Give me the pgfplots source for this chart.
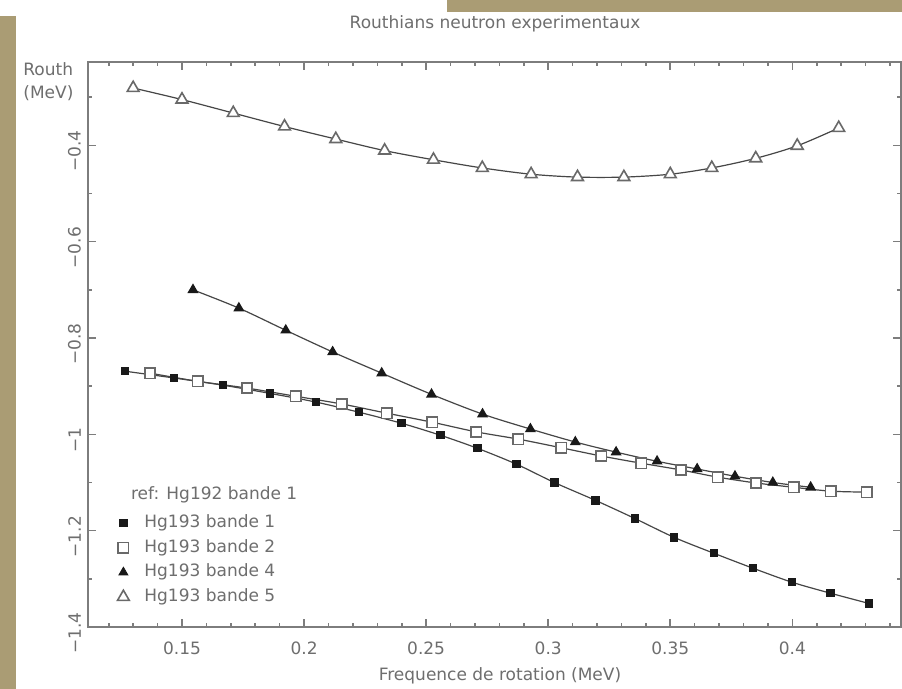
\documentclass[border=0pt]{standalone}
\usepackage{fontspec}
\setmainfont{DejaVu Sans}
\usepackage{pgfplots}
\pgfplotsset{compat=1.18}
\definecolor{tanbg}{RGB}{170,156,116}
\definecolor{txt}{RGB}{110,110,110}
\definecolor{axc}{RGB}{125,125,125}
\definecolor{dline}{RGB}{70,70,70}
\definecolor{mk}{RGB}{25,25,25}
\definecolor{omk}{RGB}{105,105,105}
\newcommand{\lf}{\fontsize{8.5}{10}\selectfont}
\begin{document}
\begin{tikzpicture}
\path[use as bounding box, fill=white] (0pt,0pt) rectangle (451pt,344.5pt);
\fill[tanbg] (0pt,0pt) rectangle (8pt,336.5pt);
\fill[tanbg] (223.5pt,338.5pt) rectangle (451pt,344.5pt);
\begin{axis}[
  at={(44pt,31pt)}, anchor=south west,
  width=406.5pt, height=282.5pt, scale only axis,
  xmin=0.1115, xmax=0.4445, ymin=-1.4, ymax=-0.227,
  xtick={0.15,0.2,0.25,0.3,0.35,0.4},
  xticklabels={0.15,0.2,0.25,0.3,0.35,0.4},
  minor xtick={0.12,0.13,0.14,0.16,0.17,0.18,0.19,0.21,0.22,0.23,0.24,0.26,0.27,0.28,0.29,0.31,0.32,0.33,0.34,0.36,0.37,0.38,0.39,0.41,0.42,0.43,0.44},
  ytick={-1.4,-1.2,-1,-0.8,-0.6,-0.4},
  yticklabels={−1.4,−1.2,−1,−0.8,−0.6,−0.4},
  minor ytick={-1.3,-1.1,-0.9,-0.7,-0.5,-0.3},
  axis line style={axc, line width=1pt},
  every tick/.style={axc, line width=0.8pt},
  major tick length=4pt, minor tick length=2pt,
  tick pos=both,
  /pgf/number format/assume math mode=true,
  ticklabel style={font=\lf, text=txt},
  xticklabel style={yshift=-4pt},
  yticklabel style={rotate=90, anchor=south, xshift=-3pt},
  legend style={at={(rel axis cs:0.0332,0.203)}, anchor=north west, draw=none, fill=none,
    font=\lf, text=txt, inner sep=0pt, row sep=1.8pt, column sep=5.5pt,
    nodes={inner sep=1pt, text height=6.5pt, text depth=2pt}},
  legend cell align=left,
  mleg/.style={only marks, legend image code/.code={\path[draw=none, fill=none] (-4pt,-3pt) rectangle (4pt,3pt); \draw[##1] plot coordinates {(0pt,0pt)};}},
]
% bande 1
\addplot[dline, line width=0.6pt, smooth, mark=square*, mark size=1.8pt,
  mark options={mk, fill=mk, solid}, forget plot] coordinates {
(0.1267,-0.869)(0.1467,-0.883)(0.1668,-0.898)(0.1860,-0.915)(0.2048,-0.933)
(0.2224,-0.954)(0.2399,-0.977)(0.2559,-1.002)(0.2710,-1.029)(0.2870,-1.062)
(0.3025,-1.100)(0.3193,-1.137)(0.3356,-1.175)(0.3516,-1.214)(0.3679,-1.247)
(0.3839,-1.278)(0.3998,-1.307)(0.4157,-1.330)(0.4313,-1.351)};
% bande 2
\addplot[dline, line width=0.6pt, smooth, mark=square*, mark size=2.6pt,
  mark options={omk, fill=white, line width=0.8pt, solid}, forget plot] coordinates {
(0.1369,-0.873)(0.1565,-0.890)(0.1766,-0.904)(0.1966,-0.921)(0.2154,-0.937)
(0.2338,-0.956)(0.2526,-0.975)(0.2706,-0.995)(0.2878,-1.010)(0.3054,-1.028)
(0.3217,-1.045)(0.3381,-1.060)(0.3544,-1.074)(0.3695,-1.089)(0.3851,-1.101)
(0.4006,-1.110)(0.4157,-1.118)(0.4305,-1.120)};
% bande 4
\addplot[dline, line width=0.6pt, smooth, mark=triangle*, mark size=2.6pt,
  mark options={mk, fill=mk, solid}, forget plot] coordinates {
(0.1545,-0.700)(0.1733,-0.738)(0.1925,-0.784)(0.2117,-0.829)(0.2318,-0.873)
(0.2522,-0.917)(0.2731,-0.958)(0.2927,-0.989)(0.3111,-1.016)(0.3278,-1.037)
(0.3446,-1.056)(0.3610,-1.072)(0.3765,-1.087)(0.3920,-1.100)(0.4075,-1.110)};
% bande 5
\addplot[dline, line width=0.6pt, smooth, mark=triangle*, mark size=3.4pt,
  mark options={omk, fill=white, line width=0.8pt, solid}, forget plot] coordinates {
(0.130,-0.281)(0.150,-0.305)(0.171,-0.333)(0.192,-0.361)(0.213,-0.387)
(0.233,-0.411)(0.253,-0.430)(0.273,-0.447)(0.293,-0.460)(0.312,-0.466)
(0.331,-0.466)(0.350,-0.460)(0.367,-0.447)(0.385,-0.427)(0.402,-0.401)
(0.419,-0.364)};
\addlegendimage{mleg, mark=square*, mark size=1.8pt, mark options={mk, fill=mk}}
\addlegendentry{Hg193 bande 1}
\addlegendimage{mleg, mark=square*, mark size=2.6pt, mark options={omk, fill=white, line width=0.8pt}}
\addlegendentry{Hg193 bande 2}
\addlegendimage{mleg, mark=triangle*, mark size=2.6pt, mark options={mk, fill=mk}}
\addlegendentry{Hg193 bande 4}
\addlegendimage{mleg, mark=triangle*, mark size=3.4pt, mark options={omk, fill=white, line width=0.8pt}}
\addlegendentry{Hg193 bande 5}
\end{axis}
\node[font=\lf, text=txt, anchor=west] at (62pt,97pt) {ref: Hg192 bande 1};
\node[font=\lf, text=txt] at (247.5pt,332.5pt) {Routhians neutron experimentaux};
\node[font=\lf, text=txt] at (250pt,6.5pt) {Frequence de rotation (MeV)};
\node[font=\lf, text=txt, anchor=west, inner sep=0pt] at (11.5pt,310pt) {Routh};
\node[font=\lf, text=txt, anchor=west, inner sep=0pt] at (11.5pt,298pt) {(MeV)};
\end{tikzpicture}
\end{document}
